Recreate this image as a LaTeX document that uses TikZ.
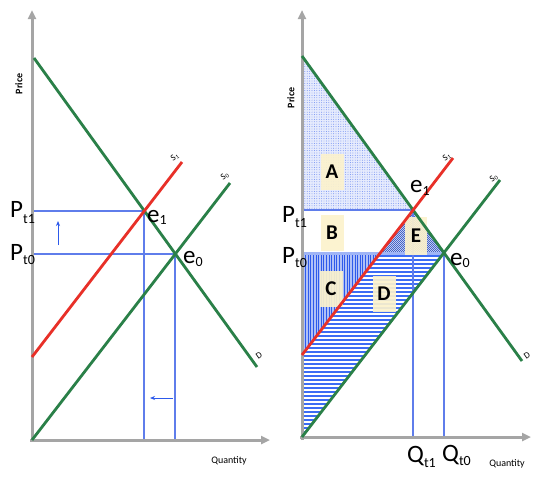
\documentclass[tikz,border=0pt]{standalone}
\usepackage{fontspec}
\setmainfont{Carlito}
\usetikzlibrary{patterns.meta,arrows.meta}
\definecolor{grn}{RGB}{42,128,72}
\definecolor{rd}{RGB}{232,48,40}
\definecolor{bl}{RGB}{45,90,235}
\definecolor{hl}{RGB}{60,108,245}
\definecolor{gl}{RGB}{95,125,235}
\definecolor{axg}{RGB}{165,165,165}
\definecolor{cream}{RGB}{252,242,205}
\newcommand\biglab[3]{{\fontsize{25}{25}\selectfont #1}\raisebox{#3}{\fontsize{14}{14}\selectfont #2}}
\begin{document}
\begin{tikzpicture}[x=1pt,y=-1pt,
  axisline/.style={draw=axg,line width=3pt,-{Triangle[length=9pt,width=8pt]}},
  dline/.style={draw=grn,line width=2.8pt},
  sline/.style={draw=rd,line width=2.8pt},
  guide/.style={draw=gl,line width=1.2pt},
  hatchline/.style={draw=bl,line width=1.5pt},
  rowline/.style={draw=hl,line width=1.7pt},
  shiftarrow/.style={draw=bl,line width=1pt,-{Stealth[length=5pt,width=4pt]}},
  lab/.style={anchor=base west,inner sep=0pt},
  tiny/.style={inner sep=0pt,font=\fontsize{9}{9}\selectfont,rotate=35},
  axlab/.style={inner sep=0pt,font=\fontsize{10}{10}\selectfont},
  letterbox/.style={fill=cream,opacity=0.92,text opacity=1,minimum width=23pt,minimum height=36pt,inner sep=0pt,font=\fontsize{21}{21}\selectfont\bfseries}]
\useasboundingbox (0,0) rectangle (533,477);
\fill[white] (0,0) rectangle (533,477);
% ---------- left panel ----------
\coordinate (LO) at (32,440);
\coordinate (Le1) at (144,211);
\coordinate (Le0) at (175,254);
\coordinate (LDt) at (34,58);
\coordinate (LDb) at (257,367);
\coordinate (LS0t) at (230,183);
\coordinate (LS1b) at (32,357);
\coordinate (LS1t) at (182,162);
\coordinate (LP1) at (32,211);
\coordinate (LP0) at (32,254);
\coordinate (LQ1) at (144,440);
\coordinate (LQ0) at (175,440);
\draw[guide] (LP1) -- (Le1) -- (LQ1);
\draw[guide] (LP0) -- (Le0) -- (LQ0);
\coordinate (Lua) at (58,245);
\coordinate (Lub) at (58,221);
\coordinate (Lla) at (173,398);
\coordinate (Llb) at (150,398);
\draw[shiftarrow] (Lua) -- (Lub);
\draw[shiftarrow] (Lla) -- (Llb);
\draw[axisline] (32,442) -- (32,10);
\draw[axisline] (30,440) -- (270,440);
\draw[dline] (LDt) -- (LDb);
\draw[dline] (LO) -- (LS0t);
\draw[sline] (LS1b) -- (LS1t);
\node[lab] (lpt1) at (10,217) {\biglab{P}{t1}{-6pt}};
\node[lab] (lpt0) at (10,260) {\biglab{P}{t0}{-4pt}};
\node[lab] (le1) at (147,222) {\biglab{e}{1}{-2pt}};
\node[lab] (le0) at (183,263) {\biglab{e}{0}{-3pt}};
\node[tiny] (ls1) at (175,157) {S\textsubscript{1}};
\node[tiny] (ls0) at (225,176) {S\textsubscript{0}};
\node[tiny] (ld) at (259,356) {D};
\node[axlab,rotate=90,font=\fontsize{10}{10}\selectfont\bfseries] (lprice) at (19,84) {Price};
\node[axlab] (lqty) at (229,461) {Quantity};
% ---------- right panel ----------
\coordinate (RO) at (302,437);
\coordinate (Re1) at (413,210);
\coordinate (Re0) at (444,253);
\coordinate (RDt) at (302,56);
\coordinate (RDb) at (522,361);
\coordinate (RS0t) at (500,180);
\coordinate (RS1b) at (302,355);
\coordinate (RS1t) at (453,158);
\coordinate (RP1) at (302,210);
\coordinate (RP0) at (302,253);
\coordinate (RX) at (380.2,253);
\coordinate (RQ1) at (413,437);
\coordinate (RQ0) at (444,437);
% area A: dotted
\fill[bl!12] (RDt) -- (Re1) -- (RP1) -- cycle;
\fill[pattern={Dots[distance=2.4pt,radius=0.45pt]},pattern color=bl!75] (RDt) -- (Re1) -- (RP1) -- cycle;
% area C: vertical lines
\fill[bl!38] (RP0) -- (RX) -- (RS1b) -- cycle;
\begin{scope}
\clip (RP0) -- (RX) -- (RS1b) -- cycle;
\foreach \xx in {303,305.6,...,382} \draw[hatchline,line width=0.8pt] (\xx,250) -- (\xx,360);
\end{scope}
% area D: horizontal lines
\begin{scope}
\clip (RX) -- (Re0) -- (RO) -- (RS1b) -- cycle;
\foreach \hy in {256,260,...,437} \draw[rowline] (300,\hy) -- (450,\hy);
\end{scope}
% area E: diagonal hatch
\fill[bl!15] (Re1) -- (RX) -- (Re0) -- cycle;
\begin{scope}
\clip (Re1) -- (RX) -- (Re0) -- cycle;
\foreach \k in {320,322,...,450} \draw[hatchline,line width=0.6pt,draw=bl!80!black] (\k,200) -- ({\k+60},260);
\end{scope}
\draw[bl!45,line width=3pt] (RP0) -- (Re0);
\draw[guide] (RP1) -- (Re1);
\draw[guide] (Re1) -- (RQ1);
\draw[guide] (Re0) -- (RQ0);
\draw[axisline] (302,440) -- (302,10);
\draw[axisline] (300,437) -- (531,437);
\node[letterbox] (bA) at (332,172) {A};
\node[letterbox] (bB) at (332,233) {B};
\node[letterbox] (bC) at (331,289) {C};
\node[letterbox] (bD) at (384,294) {D};
\node[letterbox,minimum width=22pt,minimum height=38pt] (bE) at (416,236) {E};
\draw[dline] (RDt) -- (RDb);
\draw[dline] (RO) -- (RS0t);
\draw[sline] (RS1b) -- (RS1t);
\node[lab] (rpt1) at (282,222) {\biglab{P}{t1}{-5pt}};
\node[lab] (rpt0) at (282,263) {\biglab{P}{t0}{-4pt}};
\node[lab] (re1) at (410,192) {\biglab{e}{1}{-3pt}};
\node[lab] (re0) at (450,265) {\biglab{e}{0}{-2pt}};
\node[lab] (rq1) at (407,462) {\biglab{Q}{t1}{-5pt}};
\node[lab] (rq0) at (442,461) {\biglab{Q}{t0}{-4pt}};
\node[tiny] (rs1) at (447,157) {S\textsubscript{1}};
\node[tiny] (rs0) at (494,178) {S\textsubscript{0}};
\node[tiny] (rd) at (527,356) {D};
\node[axlab,rotate=90,font=\fontsize{10}{10}\selectfont\bfseries] (rprice) at (291,98) {Price};
\node[axlab] (rqty) at (507,464) {Quantity};
\end{tikzpicture}
\end{document}
